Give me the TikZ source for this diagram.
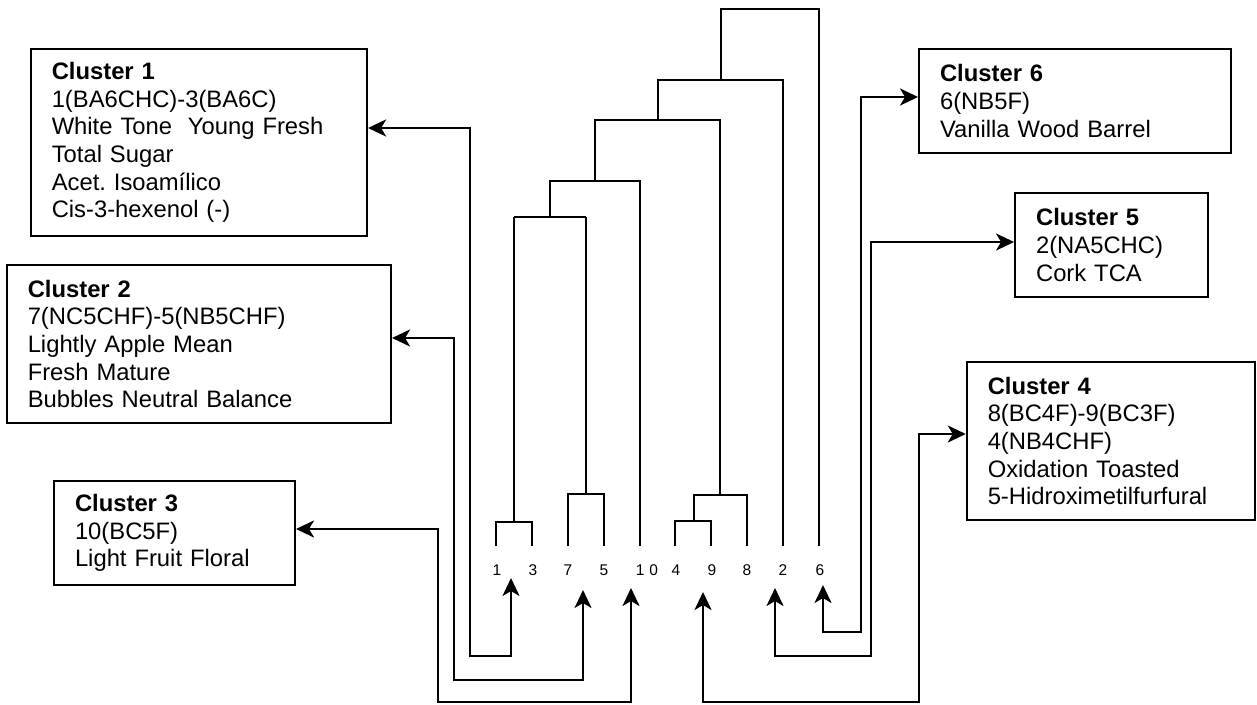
\documentclass[tikz,border=0pt]{standalone}
\usepackage{fontspec}
\setmainfont{Liberation Sans}
\usetikzlibrary{arrows.meta}
\frenchspacing
\begin{document}
\begin{tikzpicture}[x=1pt,y=-1pt,
  cbox/.style={draw, line width=2pt, rectangle, inner xsep=21pt, inner ysep=0pt, align=left,
    font=\fontsize{23.8}{27.6}\selectfont},
  dend/.style={line width=1.4pt},
  conn/.style={line width=2.6pt,
    {Stealth[length=18pt,width=17pt,inset=5pt]}-{Stealth[length=18pt,width=17pt,inset=5pt]}},
  leaf/.style={font=\fontsize{15.5}{17}\selectfont, inner sep=0pt}]
\useasboundingbox (0,0) rectangle (1257,704);

% cluster boxes
\node[cbox, text width=294.3pt, minimum height=187pt] (C1) at (198.9,142.5)
  {\textbf{Cluster 1}\\1(BA6CHC)-3(BA6C)\\White Tone\ \ Young Fresh\\Total Sugar\\Acet. Isoamílico\\Cis-3-hexenol (-)};
\node[cbox, text width=342.3pt, minimum height=158pt] (C2) at (198.9,344)
  {\textbf{Cluster 2}\\7(NC5CHF)-5(NB5CHF)\\Lightly Apple Mean\\Fresh Mature\\Bubbles Neutral Balance};
\node[cbox, text width=199pt, minimum height=104pt] (C3) at (174.5,533)
  {\textbf{Cluster 3}\\10(BC5F)\\Light Fruit Floral};
\node[cbox, text width=269.7pt, minimum height=104pt] (C6) at (1074.9,101)
  {\textbf{Cluster 6}\\6(NB5F)\\Vanilla Wood Barrel};
\node[cbox, text width=150.7pt, minimum height=104pt] (C5) at (1111.4,245)
  {\textbf{Cluster 5}\\2(NA5CHC)\\Cork TCA};
\node[cbox, text width=246.3pt, minimum height=158pt] (C4) at (1110.9,441)
  {\textbf{Cluster 4}\\8(BC4F)-9(BC3F)\\4(NB4CHF)\\Oxidation Toasted\\5-Hidroximetilfurfural};

% leaf labels
\node[leaf] (l1) at (497,570) {1};
\node[leaf] (l3) at (533,570) {3};
\node[leaf] (l7) at (568,570) {7};
\node[leaf] (l5) at (604,570) {5};
\node[leaf] (l10) at (647,570) {1\hspace{5pt}0};
\node[leaf] (l4) at (676,570) {4};
\node[leaf] (l9) at (712,570) {9};
\node[leaf] (l8) at (747,570) {8};
\node[leaf] (l2) at (783,570) {2};
\node[leaf] (l6) at (820,570) {6};

% dendrogram
\draw[dend] (496,546) -- (496,522) -- (532,522) -- (532,546);
\draw[dend] (514,522) -- (514,217);
\draw[dend] (568,546) -- (568,494) -- (604,494) -- (604,546);
\draw[dend] (586,494) -- (586,217);
\draw[dend] (514,217) -- (586,217);
\draw[dend] (550,217) -- (550,181) -- (640,181) -- (640,546);
\draw[dend] (595,181) -- (595,120) -- (720,120) -- (720,495);
\draw[dend] (675,546) -- (675,521) -- (711,521) -- (711,546);
\draw[dend] (694,521) -- (694,495) -- (747,495) -- (747,546);
\draw[dend] (658,120) -- (658,80) -- (783,80) -- (783,546);
\draw[dend] (721,80) -- (721,9) -- (819,9) -- (819,546);

% arrow tips at leaves
\coordinate (t1) at (511,578);
\coordinate (t2) at (583,590);
\coordinate (t3) at (631,588);
\coordinate (t4) at (703,592);
\coordinate (t5) at (775,588);
\coordinate (t6) at (823,585);

% connectors
\draw[conn] (t1) -- (511,656) -- (470,656) -- (470,128) -- ([yshift=14.5pt]C1.east);
\draw[conn] (t2) -- (583,680) -- (454,680) -- (454,338) -- ([yshift=6pt]C2.east);
\draw[conn] (t3) -- (631,702) -- (438,702) -- (438,529) -- ([yshift=4pt]C3.east);
\draw[conn] (t4) -- (703,702) -- (919,702) -- (919,434) -- ([yshift=7pt]C4.west);
\draw[conn] (t5) -- (775,656) -- (871,656) -- (871,242) -- ([yshift=3pt]C5.west);
\draw[conn] (t6) -- (823,632) -- (861,632) -- (861,97) -- ([yshift=4pt]C6.west);
\end{tikzpicture}
\end{document}
